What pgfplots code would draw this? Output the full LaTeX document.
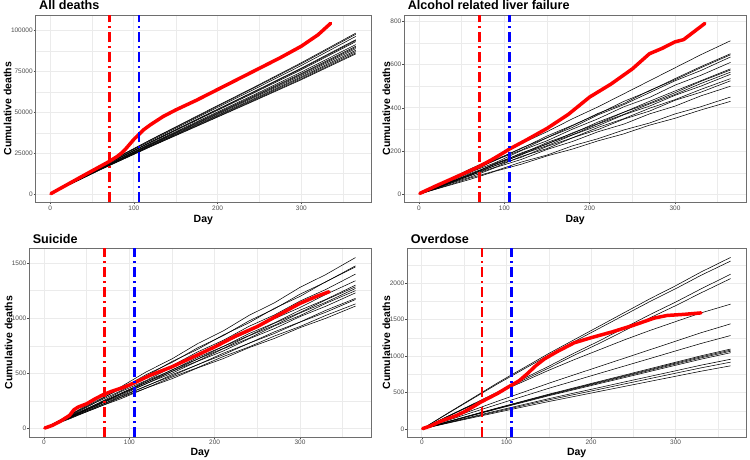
\documentclass[border=0pt]{standalone}
\usepackage{fontspec}
\setmainfont{Liberation Sans}
\usepackage{pgfplots}
\usepackage{pgfplotstable}
\pgfplotsset{compat=1.18}

\definecolor{gridc}{RGB}{235,235,235}
\definecolor{tickc}{RGB}{77,77,77}
\definecolor{framec}{RGB}{110,110,110}

\pgfplotsset{
  panel/.style={
    scale only axis,
    xmin=-17.2, xmax=383.2,
    axis line style={framec, line width=0.9pt},
    tick align=outside,
    tick pos=left,
    major tick length=2pt,
    minor tick length=0pt,
    every tick/.style={tickc, line width=0.5pt},
    xtick={0,100,200,300},
    minor xtick={50,150,250,350},
    grid=both,
    major grid style={gridc, line width=0.8pt},
    minor grid style={gridc, line width=0.4pt},
    tick label style={font=\fontsize{6.5}{7.5}\selectfont, text=tickc},
    yticklabel style={inner xsep=0.8pt},
    xticklabel style={inner ysep=1.2pt},
    /pgf/number format/assume math mode=true,
    /pgf/number format/fixed,
    /pgf/number format/1000 sep={},
    scaled y ticks=false,
  },
  sim/.style={black, line width=0.55pt, no marks},
  obs/.style={red, line width=3.5pt, no marks, line join=round, line cap=round},
  vl/.style={line width=2.4pt, no marks, line cap=butt,
    dash pattern=on 10pt off 4pt on 2pt off 4pt},
}

% simulated years, all deaths
\pgfplotstableread{
day s1 s2 s3 s4 s5 s6 s7 s8 s9 s10 s11 s12 s13 s14
1 300 300 300 300 300 300 300 300 300 300 300 300 300 300
60 17100 17000 16800 16400 16400 16200 15900 15700 15600 15500 15300 15200 15000 14900
120 33300 33100 32600 31900 31800 31500 30900 30600 30400 30100 29700 29500 29200 29000
180 49000 48600 48000 47000 46700 46400 45500 45000 44600 44200 43700 43300 42900 42600
240 64500 64100 63200 61900 61600 61100 59900 59300 58800 58300 57600 57100 56600 56200
300 80400 79800 78700 77100 76700 76100 74700 73800 73300 72600 71800 71200 70500 70000
365 98500 97800 96500 94500 94000 93300 91500 90500 89800 89000 88000 87200 86400 85800
}\simA
\pgfplotstableread{
day val
1 300
20 5700
40 11400
60 17000
70 19800
80 23000
85 25000
90 27500
95 30500
100 33500
106 36500
112 39500
120 42500
135 47500
150 51500
175 57500
200 64000
225 70500
250 77000
275 83500
300 90500
320 97500
335 104500
}\obsA

% alcohol related liver failure
\pgfplotstableread{
day s1 s2 s3 s4 s5 s6 s7 s8 s9 s10 s11 s12 s13 s14
1 3 2 4 3 2 3 2 4 2 3 2 3 2 3
30 60 55 50 54 48 50 45 48 44 46 41 43 38 36
60 118 105 110 102 103 92 97 90 93 86 88 80 76 70
90 172 162 158 160 148 145 140 142 134 135 127 125 110 108
120 235 212 215 205 203 188 192 183 186 172 176 162 150 140
150 290 270 262 262 248 240 232 235 225 222 212 208 182 178
180 350 320 318 310 302 282 285 276 275 262 262 245 225 210
210 405 372 375 368 350 335 328 326 318 310 300 290 258 248
240 465 430 420 415 405 380 380 370 368 350 348 325 298 280
270 525 478 480 470 448 430 422 418 408 398 385 372 330 320
300 585 535 530 525 505 478 470 462 458 438 435 408 372 352
330 645 590 585 572 550 525 522 512 500 485 472 455 405 390
365 710 650 645 635 610 580 575 565 555 535 525 500 450 430
}\simB
\pgfplotstableread{
day val
1 5
20 40
40 75
60 110
70 128
85 160
100 195
106 210
125 250
150 305
175 370
200 450
225 510
250 580
270 650
285 675
300 705
310 715
320 745
335 790
}\obsB

% suicide
\pgfplotstableread{
day s1 s2 s3 s4 s5 s6 s7 s8 s9 s10 s11 s12 s13 s14
1 4 5 3 4 3 5 4 3 5 4 3 5 4 3
30 122 118 124 112 113 104 108 101 106 98 100 93 95 88
60 258 246 236 234 216 217 207 211 202 205 190 195 182 185
90 378 360 366 342 335 317 321 310 313 300 295 285 282 270
120 515 490 478 465 437 432 419 422 407 408 384 388 368 368
150 632 600 608 570 556 530 533 518 518 502 489 477 467 452
180 770 732 718 695 656 645 630 630 612 610 578 580 553 550
210 885 842 848 800 776 744 744 726 723 703 683 669 653 634
240 1025 975 958 926 878 860 842 840 818 813 772 773 739 733
270 1140 1085 1090 1030 996 958 955 936 930 906 877 862 839 817
300 1280 1218 1198 1156 1097 1073 1052 1048 1024 1015 966 965 925 915
330 1395 1328 1330 1260 1215 1170 1166 1144 1134 1108 1071 1054 1025 999
365 1550 1475 1465 1400 1340 1300 1285 1270 1250 1230 1180 1170 1130 1110
}\simC
\pgfplotstableread{
day val
1 5
10 30
20 70
30 120
35 170
40 195
50 225
60 270
70 310
80 340
90 365
100 395
106 415
125 485
150 560
175 650
200 740
225 840
250 925
275 1030
300 1135
320 1200
334 1240
}\obsC

% overdose
\pgfplotstableread{
day s1 s2 s3 s4 s5 s6 s7 s8 s9 s10 s11 s12 s13 s14
1 5 4 4 3 3 3 2 2 2 3 2 2 2 2
30 212 207 170 165 171 130 115 99 97 96 94 86 82 78
60 423 414 339 330 333 256 228 195 192 190 186 170 163 154
90 635 621 509 494 496 382 339 290 286 282 277 253 242 229
120 834 817 689 670 650 504 448 383 378 373 366 334 320 303
150 1034 1012 859 834 804 626 557 476 470 463 455 415 398 376
180 1222 1196 1039 1009 949 742 659 564 556 548 538 492 471 445
210 1410 1380 1208 1174 1086 857 762 652 643 634 622 568 544 515
240 1598 1564 1389 1349 1223 972 864 739 729 719 705 645 618 584
270 1786 1748 1569 1524 1351 1087 966 827 815 804 789 721 691 653
300 1962 1921 1738 1689 1471 1202 1069 914 902 889 873 797 764 722
330 2150 2105 1919 1864 1590 1318 1171 1002 988 974 956 874 837 791
365 2350 2300 2120 2060 1710 1440 1280 1095 1080 1065 1045 955 915 865
}\simD
\pgfplotstableread{
day val
1 5
10 40
20 95
30 140
40 180
50 235
60 300
70 370
80 430
90 490
100 560
106 600
115 660
125 760
135 870
145 960
160 1060
180 1180
200 1250
225 1330
250 1420
275 1520
290 1555
310 1570
330 1590
}\obsD

\begin{document}
\begin{tikzpicture}[x=1pt,y=1pt]
\useasboundingbox (0,0) rectangle (750,460);

% ---- All deaths
\begin{axis}[panel, at={(35.7pt,257.7pt)}, anchor=south west,
  width=335.3pt, height=187.3pt,
  ymin=-5000, ymax=109600,
  ytick={0,25000,50000,75000,100000},
  minor ytick={12500,37500,62500,87500}]
\pgfplotsinvokeforeach{1,...,14}{\addplot[sim] table[x=day,y=s#1]{\simA};}
\addplot[obs] table[x=day,y=val]{\obsA};
\addplot[vl, red] coordinates {(71,-5000) (71,109600)};
\addplot[vl, blue] coordinates {(106,-5000) (106,109600)};
\end{axis}

% ---- Alcohol related liver failure
\begin{axis}[panel, at={(404.3pt,257.7pt)}, anchor=south west,
  width=341.7pt, height=187.3pt,
  ymin=-36, ymax=829,
  ytick={0,200,400,600,800},
  minor ytick={100,300,500,700}]
\pgfplotsinvokeforeach{1,...,14}{\addplot[sim] table[x=day,y=s#1]{\simB};}
\addplot[obs] table[x=day,y=val]{\obsB};
\addplot[vl, red] coordinates {(71,-36) (71,829)};
\addplot[vl, blue] coordinates {(106,-36) (106,829)};
\end{axis}

% ---- Suicide
\begin{axis}[panel, at={(29.3pt,23pt)}, anchor=south west,
  width=341.7pt, height=188.7pt,
  ymin=-76, ymax=1634,
  ytick={0,500,1000,1500},
  minor ytick={250,750,1250}]
\pgfplotsinvokeforeach{1,...,14}{\addplot[sim] table[x=day,y=s#1]{\simC};}
\addplot[obs] table[x=day,y=val]{\obsC};
\addplot[vl, red] coordinates {(71,-76) (71,1634)};
\addplot[vl, blue] coordinates {(106,-76) (106,1634)};
\end{axis}

% ---- Overdose
\begin{axis}[panel, at={(407.3pt,23pt)}, anchor=south west,
  width=338.7pt, height=188.7pt,
  ymin=-110, ymax=2475,
  ytick={0,500,1000,1500,2000},
  minor ytick={250,750,1250,1750,2250}]
\pgfplotsinvokeforeach{1,...,14}{\addplot[sim] table[x=day,y=s#1]{\simD};}
\addplot[obs] table[x=day,y=val]{\obsD};
\addplot[vl, red] coordinates {(71,-110) (71,2475)};
\addplot[vl, blue] coordinates {(106,-110) (106,2475)};
\end{axis}

% titles and axis labels
\tikzset{ttl/.style={anchor=base west, font=\fontsize{12.6}{14}\selectfont\bfseries},
         lbl/.style={anchor=base, font=\fontsize{10.5}{12}\selectfont\bfseries}}
\node[ttl] at (35.7,450.5) {All deaths};
\node[ttl] at (404.3,450.5) {Alcohol related liver failure};
\node[ttl] at (29.3,216.7) {Suicide};
\node[ttl] at (407.3,216.7) {Overdose};

\node[lbl] at (203.3,237.5) {Day};
\node[lbl] at (575.2,237.5) {Day};
\node[lbl] at (200.2,4.2) {Day};
\node[lbl] at (576.7,4.2) {Day};

\node[lbl, rotate=90] at (11.5,351.3) {Cumulative deaths};
\node[lbl, rotate=90] at (390,351.3) {Cumulative deaths};
\node[lbl, rotate=90] at (12.5,117.3) {Cumulative deaths};
\node[lbl, rotate=90] at (390,117.3) {Cumulative deaths};
\end{tikzpicture}
\end{document}
